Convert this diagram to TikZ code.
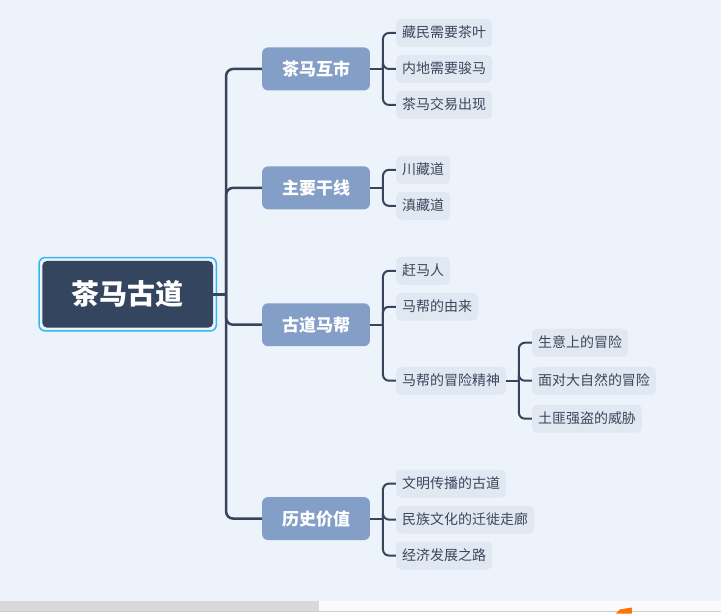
\documentclass[tikz,border=0pt]{standalone}
\usepackage{fontspec}
\setmainfont{Noto Sans CJK SC}
\definecolor{bg}{HTML}{EDF3FA}
\definecolor{rootc}{HTML}{344560}
\definecolor{selc}{HTML}{33B8F4}
\definecolor{topicc}{HTML}{839FC8}
\definecolor{leafc}{HTML}{E1E8F1}
\definecolor{linec}{HTML}{37445A}
\definecolor{txtc}{HTML}{3B475B}
\begin{document}
\begin{tikzpicture}[x=1pt, y=-1pt,
  root/.style={fill=rootc, rounded corners=5pt, minimum width=171pt, minimum height=67pt,
    text=white, font=\fontsize{28}{30}\selectfont\bfseries, text height=24.5pt, text depth=3.5pt},
  topic/.style={fill=topicc, rounded corners=6pt, minimum width=108pt, minimum height=43pt,
    text=white, font=\fontsize{17}{19}\selectfont\bfseries, text height=15pt, text depth=2pt},
  leaf/.style={fill=leafc, rounded corners=5pt, anchor=west, minimum height=28pt, inner xsep=6pt,
    text=txtc, font=\fontsize{14}{16}\selectfont, text height=12pt, text depth=2pt},
  link/.style={draw=linec, line width=2.5pt, rounded corners=7pt},
  sublink/.style={draw=linec, line width=2pt, rounded corners=6pt}]

% background and bottom bar
\fill[bg] (0,0) rectangle (721,601);
\fill[black!15] (0,601) rectangle (319,611);
\fill[black!2] (319,601) rectangle (721,611);
\fill[white] (0,611) rectangle (721,614);
\draw[black!20, line width=0.6pt] (0,611.5) -- (721,611.5);
\fill[orange!90!red] (616,614) -- (620,610) -- (632,608) -- (632,614) -- cycle;

\node[root] (root) at (127.5,294.5) {茶马古道};
\draw[selc, line width=1.5pt, rounded corners=6pt]
  ([xshift=-3pt,yshift=3pt]root.north west) rectangle ([xshift=3pt,yshift=-3pt]root.south east);

\node[topic] (t1) at (316,69) {茶马互市};
\node[topic] (t2) at (316,188) {主要干线};
\node[topic] (t3) at (316,325) {古道马帮};
\node[topic] (t4) at (316,519) {历史价值};

\coordinate (j) at (226,294.5);
\draw[link] (root.east) -- (j);
\foreach \t in {t1,t2,t3,t4}
  \draw[link] (j) |- (\t.west);

% 茶马互市
\node[leaf] (a1) at (396,33) {藏民需要茶叶};
\node[leaf] (a2) at (396,69) {内地需要骏马};
\node[leaf] (a3) at (396,105) {茶马交易出现};
% 主要干线
\node[leaf] (b1) at (396,170) {川藏道};
\node[leaf] (b2) at (396,206) {滇藏道};
% 古道马帮
\node[leaf] (c1) at (396,271) {赶马人};
\node[leaf] (c2) at (396,307) {马帮的由来};
\node[leaf] (c3) at (396,381) {马帮的冒险精神};
\node[leaf] (d1) at (532,343) {生意上的冒险};
\node[leaf] (d2) at (532,381) {面对大自然的冒险};
\node[leaf] (d3) at (532,419) {土匪强盗的威胁};
% 历史价值
\node[leaf] (e1) at (396,484) {文明传播的古道};
\node[leaf] (e2) at (396,520) {民族文化的迁徙走廊};
\node[leaf] (e3) at (396,556) {经济发展之路};

\coordinate (ja) at (383,69);
\coordinate (jb) at (383,188);
\coordinate (jc) at (383,325);
\coordinate (jd) at (519,381);
\coordinate (je) at (383,519);
\draw[sublink] (t1.east) -- (ja);
\draw[sublink] (t2.east) -- (jb);
\draw[sublink] (t3.east) -- (jc);
\draw[sublink] (c3.east) -- (jd);
\draw[sublink] (t4.east) -- (je);
\foreach \x in {1,2,3}
{
    \draw[sublink] (ja) |- (a\x.west);
    \draw[sublink] (jc) |- (c\x.west);
    \draw[sublink] (jd) |- (d\x.west);
    \draw[sublink] (je) |- (e\x.west);
}
\foreach \x in {1,2}
    \draw[sublink] (jb) |- (b\x.west);

\end{tikzpicture}
\end{document}
